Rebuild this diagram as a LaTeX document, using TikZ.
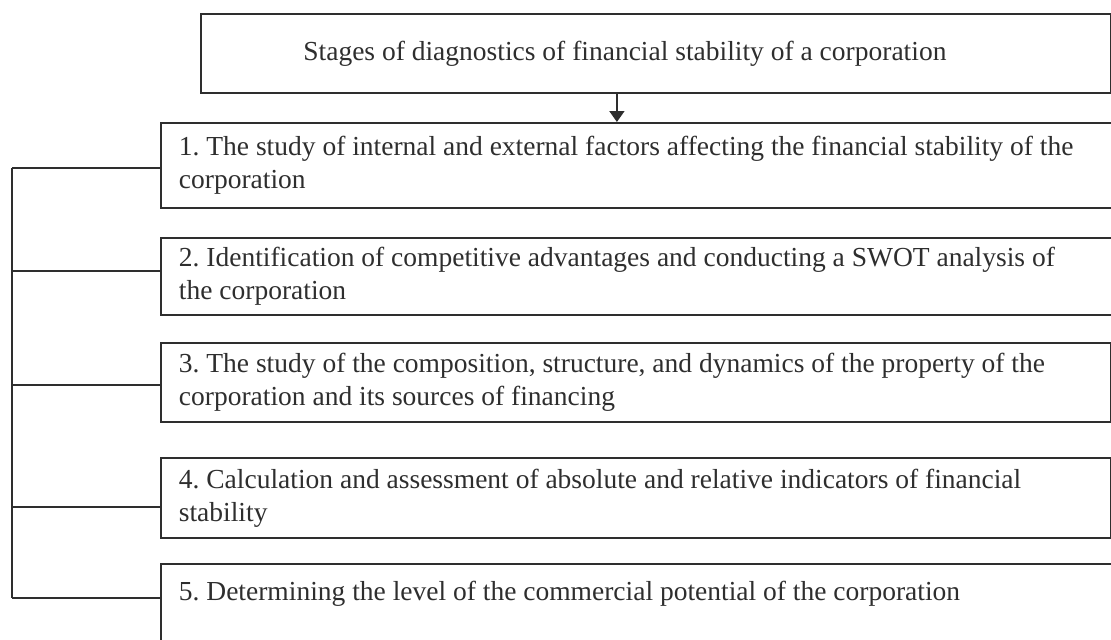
\documentclass[tikz,border=0pt]{standalone}
\usepackage{fontspec}
\setmainfont{Liberation Serif}
\usetikzlibrary{arrows.meta}
\tikzset{
  every picture/.style = {
    x = 0.5pt,
    y = -0.5pt,
    line width = 0.9pt,
    color = black!82,
    >={Triangle[length=5.5pt,width=7.5pt]},
  }
  , % boxes of the stages
  stagebox/.style = {
    rectangle,
    draw,
    anchor = north west,
    align = flush left,
    inner xsep = 9pt,
    inner ysep = 0pt,
    text width = 457pt,
    font = \fontsize{13.75}{16.5}\selectfont\frenchspacing
  }
  , % boxes cut by the page border
  widebox/.style = {
    stagebox,
    text width = 462pt
  }
  , % heading box
  headbox/.style = {
    rectangle,
    draw,
    anchor = north west,
    minimum width = 455pt,
    minimum height = 39.5pt,
    font = \fontsize{13.75}{16.5}\selectfont
  }
}
\begin{document}
\begin{tikzpicture}
\useasboundingbox (0,0) rectangle (1111,639);
\node[headbox] at (200,13) (title) {Stages of diagnostics of financial stability of a corporation\hspace*{31pt}};
\node[widebox, minimum height = 42.5pt] at (160,122) (s1) {1. The study of internal and external factors affecting the financial stability of the\\corporation};
\node[widebox, minimum height = 38.5pt] at (160,237) (s2) {2. Identification of competitive advantages and conducting a SWOT analysis of\\the corporation};
\node[stagebox, minimum height = 39.5pt] at (160,342) (s3) {3. The study of the composition, structure, and dynamics of the property of the\\corporation and its sources of financing};
\node[stagebox, minimum height = 40pt] at (160,457) (s4) {4. Calculation and assessment of absolute and relative indicators of financial\\stability};
\node[widebox, minimum height = 43pt] at (160,563) (s5) {5. Determining the level of the commercial potential of the corporation\\\mbox{}};
% arrow into the first stage
\coordinate (down) at ([xshift=-19.5pt]title.south);
\draw[->] (down) -- (down |- s1.north);
% bracket on the left
\coordinate (j1) at (12,168);
\coordinate (j2) at (12,271);
\coordinate (j3) at (12,385);
\coordinate (j4) at (12,507);
\coordinate (j5) at (12,598);
\draw (j1) -- (j5);
\foreach \j/\s in {j1/s1, j2/s2, j3/s3, j4/s4, j5/s5}
  \draw (\j) -- (\j -| \s.west);
\end{tikzpicture}
\end{document}
